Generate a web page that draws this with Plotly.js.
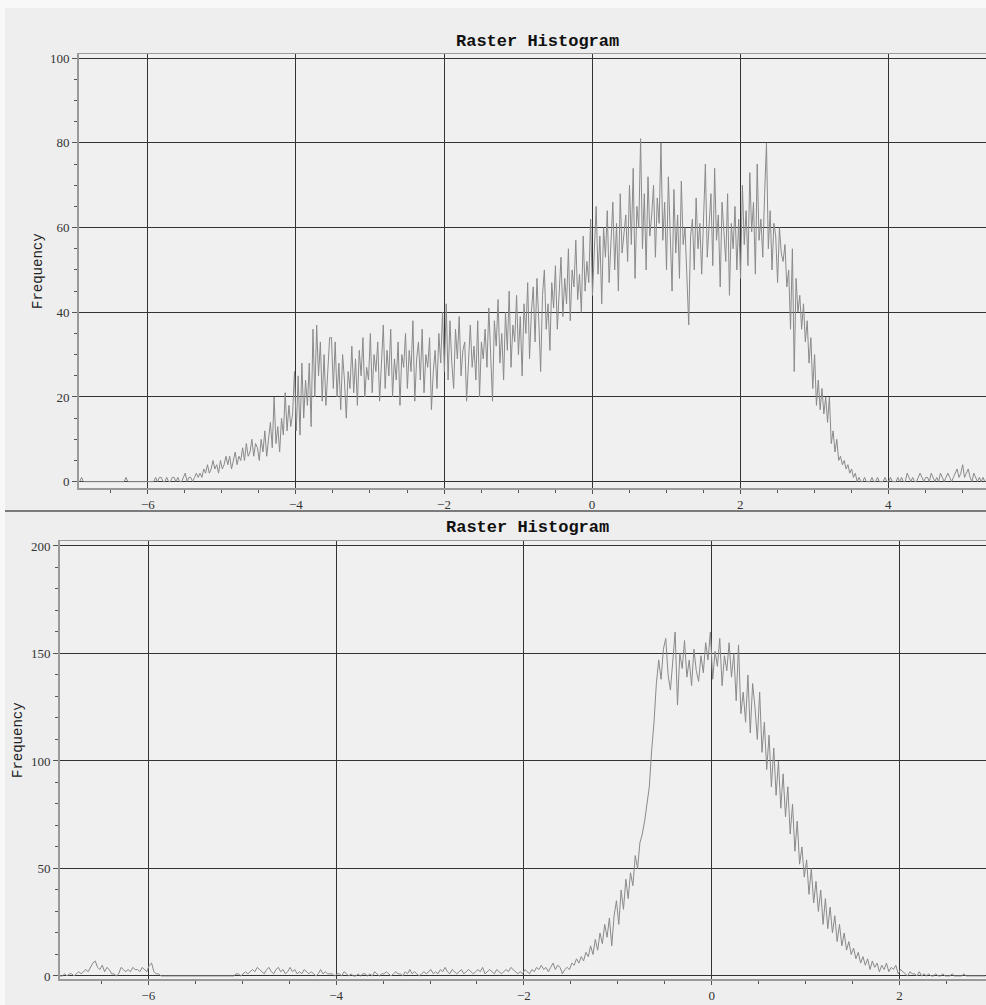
<!DOCTYPE html>
<html>
<head>
<meta charset="utf-8">
<script src="https://cdn.plot.ly/plotly-3.0.1.min.js"></script>
<style>
  html, body { margin: 0; padding: 0; background: #eeeeee; }
  #chart { width: 986px; height: 1005px; }
</style>
</head>
<body>
<div id="chart"></div>
<script>
// ---- data ----
const chartTitle = "Raster Histogram";
const yLabel = "Frequency";
const binWidth = 0.025;

const topBinStart = -6.92;
const topFreq = [
  0,1,0,0,0,0,0,0,0,0, 0,0,0,0,0,0,0,0,0,0, 0,0,0,0,0,1,0,0,0,0, 0,0,0,0,0,0,0,0,0,0,
  0,1,0,1,1,0,0,1,0,0, 1,1,0,1,0,0,1,2,0,1, 1,0,1,2,
  1,2,1,3,2,4,2,3,5,3,4,2,5,3,4,6,
  4,6,3,5,7,4,6,5,8,5,9,6,7,10,6,9,
  8,5,10,7,12,6,11,14,8,20,9,13,7,15,11,21,
  12,18,13,16,26,12,25,11,
  28,15,24,18,28,13,36,20,37,25,33,19,30,18,26,34,
  34,22,33,20,28,17,30,24,15,26,22,32,21,29,18,31,25,34,20,27,
  24,35,21,30,26,33,19,28,37,22,31,25,36,20,29,24,33,18,30,27,
  35,22,31,26,38,19,29,33,24,36,21,30,27,34,17,26,31,22,35,28,
  40,26,42,24,38,28,22,36,29,39,25,31,33,19,28,37,27,32,24,38,
  20,33,29,36,27,41,30,19,38,32,43,28,35,24,40,31,45,27,37,33,
  44,30,39,25,42,35,47,29,40,46,33,48,38,26,44,50,36,42,31,47,
  41,51,36,45,53,39,48,42,55,38,50,46,57,43,49,40,58,45,52,47,
  62,44,55,65,49,58,42,60,53,64,47,57,66,50,61,45,68,54,59,63,
  52,70,56,74,48,65,60,81,55,68,50,72,58,63,70,53,67,61,80,57,
  66,50,72,58,45,69,54,63,48,71,56,60,47,37,58,62,50,67,55,61,
  49,64,75,53,60,68,51,74,57,63,46,66,59,52,68,44,61,55,65,50,
  62,48,70,56,64,51,73,59,66,49,75,57,62,53,68,80,55,64,50,61,
  58,47,60,54,52,56,46,50,36,55,26,48,40,44,36,42,33,38,28,34,
  22,30,18,24,17,22,16,20,14,20,9,12,7,10,5,6,4,5,3,4,
  2,3,1,2,0,1,0,0,1,0,0,0,1,0,0,1,0,0,0,1,
  0,0,1,0,0,0,1,0,1,0,0,2,1,0,1,0,0,1,2,1,
  0,1,1,0,2,1,0,1,0,2,1,0,1,2,1,0,1,2,3,1,
  2,4,1,2,3,1,0,2,1,0,1,0,1,0
];
const topXTicks = [-6, -4, -2, 0, 2, 4];
const topYTicks = [0, 20, 40, 60, 80, 100];

const bottomBinStart = -6.94;
const bottomFreq = [
  0,0,1,0,1,1,0,1,2,1, 2,3,2,4,6,7,4,3,5,2, 4,3,1,1,0,1,4,3,2,3, 2,4,3,3,2,4,3,2,5,6,
  2,1,1,0,0,0,0,0,0,0, 0,0,0,0,0,0,0,0,0,0, 0,0,0,0,0,0,0,0,0,0, 0,0,0,0,0,1,
  1,0,1,2,1,2,3,2,4,3, 2,1,3,4,2,1,3,4,2,3, 1,2,4,2,3,1,2,1,3,2, 1,2,1,0,1,3,1,2,1,1,
  1,0,1,1,0,2,1,0,1,0, 0,1,0,1,1,0,1,0,2,1,
  0,1,1,2,1,0,1,2,1,1, 0,2,1,3,1,2,1,0,1,2,
  1,2,3,1,2,1,3,2,4,2, 1,3,2,1,2,3,1,2,3,2,
  1,2,3,2,4,1,2,3,2,1, 3,2,1,2,3,2,4,3,2,1,
  2,1,3,2,1,3,2,4,3,5,3,4,2,4,6,3,5,4,1,3,
  4,3,6,5,8,6,9,7,11,9,14,10,17,12,20,15,24,18,27,14,
  28,35,24,40,31,45,36,48,42,56,50,62,66,72,80,88,105,118,136,147,
  138,152,157,140,133,146,160,126,150,143,156,139,147,135,152,142,137,149,141,155,
  147,160,138,151,144,157,135,149,142,155,139,150,128,154,122,132,118,140,113,136,
  125,110,132,104,118,96,112,88,106,84,100,78,94,74,88,66,80,58,72,52,
  60,46,54,38,50,34,44,30,40,24,36,22,32,20,28,16,24,14,20,12,
  16,10,13,8,11,6,9,5,8,3,7,4,6,2,5,3,6,2,4,3,
  5,1,3,2,1,0,2,1,1,0, 2,0,1,0,1,0,0,1,0,0, 1,0,0,0,1,0,0,0,0,1, 0,0,0,0,0,0,0,0,0
];
const bottomXTicks = [-6, -4, -2, 0, 2];
const bottomYTicks = [0, 50, 100, 150, 200];

// ---- layout helpers (pixel -> paper) ----
const W = 986, H = 1005;
const px = p => p / W;
const py = p => 1 - p / H;

const tickFont = { family: "Liberation Serif, DejaVu Serif, serif", size: 13, color: "#333333" };
const gridColor = "#333333";
const lineColor = "#9a9a9a";

function xAxis(domain, range, ticks, anchor) {
  return {
    domain: domain, range: range, anchor: anchor,
    tickmode: "array", tickvals: ticks,
    showgrid: true, gridcolor: gridColor, gridwidth: 1,
    zeroline: true, zerolinecolor: gridColor, zerolinewidth: 1,
    showline: true, linecolor: lineColor, linewidth: 1.5, mirror: true,
    ticks: "outside", ticklen: 4, tickcolor: "#555555", tickwidth: 1,
    minor: { dtick: 0.5, tick0: 0, ticklen: 3, tickcolor: "#555555", showgrid: false },
    tickfont: tickFont, fixedrange: true
  };
}
function yAxis(domain, range, ticks, minorStep, anchor) {
  return {
    domain: domain, range: range, anchor: anchor,
    tickmode: "array", tickvals: ticks,
    showgrid: true, gridcolor: gridColor, gridwidth: 1,
    zeroline: true, zerolinecolor: gridColor, zerolinewidth: 1,
    showline: true, linecolor: lineColor, linewidth: 2,
    ticks: "outside", ticklen: 5, tickcolor: "#555555", tickwidth: 1,
    minor: { dtick: minorStep, tick0: 0, ticklen: 3, tickcolor: "#555555", showgrid: false },
    tickfont: tickFont, fixedrange: true
  };
}

const traces = [
  { type: "scatter", mode: "lines", x0: topBinStart, dx: binWidth, y: topFreq,
    xaxis: "x", yaxis: "y", line: { color: "#8a8a8a", width: 1 }, hoverinfo: "skip" },
  { type: "scatter", mode: "lines", x0: bottomBinStart, dx: binWidth, y: bottomFreq,
    xaxis: "x2", yaxis: "y2", line: { color: "#8a8a8a", width: 1 }, hoverinfo: "skip" }
];

const titleFont = { family: "Liberation Mono, DejaVu Sans Mono, monospace", size: 17, color: "#111111", weight: "bold" };
const labelFont = { family: "Liberation Mono, DejaVu Sans Mono, monospace", size: 14, color: "#222222" };

const layout = {
  width: W, height: H,
  margin: { l: 0, r: 0, t: 0, b: 0, pad: 0 },
  paper_bgcolor: "#eeeeee",
  plot_bgcolor: "#f0f0f0",
  showlegend: false,
  xaxis: xAxis([px(79), 1], [-6.93, 5.32], topXTicks, "y"),
  yaxis: yAxis([py(488), py(54)], [-1.5, 101], topYTicks, 5, "x"),
  xaxis2: xAxis([px(60), 1], [-6.94, 2.92], bottomXTicks, "y2"),
  yaxis2: yAxis([py(979), py(541)], [-1.4, 202.3], bottomYTicks, 10, "x2"),
  shapes: [
    { type: "rect", xref: "paper", yref: "paper", x0: 0, x1: 1, y0: py(8), y1: 1,
      fillcolor: "#f8f8f8", line: { width: 0 }, layer: "below" },
    { type: "rect", xref: "paper", yref: "paper", x0: 0, x1: px(5), y0: 0, y1: 1,
      fillcolor: "#f8f8f8", line: { width: 0 }, layer: "below" },
    { type: "line", xref: "paper", yref: "paper", x0: px(5), x1: 1, y0: py(511), y1: py(511),
      line: { color: "#555555", width: 1.5 } }
  ],
  annotations: [
    { text: chartTitle, xref: "paper", yref: "paper", x: px(537), y: py(41),
      xanchor: "center", yanchor: "middle", showarrow: false, font: titleFont },
    { text: chartTitle, xref: "paper", yref: "paper", x: px(527), y: py(527),
      xanchor: "center", yanchor: "middle", showarrow: false, font: titleFont },
    { text: yLabel, xref: "paper", yref: "paper", x: px(38), y: py(271), textangle: -90,
      xanchor: "center", yanchor: "middle", showarrow: false, font: labelFont },
    { text: yLabel, xref: "paper", yref: "paper", x: px(18), y: py(740), textangle: -90,
      xanchor: "center", yanchor: "middle", showarrow: false, font: labelFont }
  ]
};

Plotly.newPlot("chart", traces, layout, { staticPlot: true, displayModeBar: false });
</script>
</body>
</html>
